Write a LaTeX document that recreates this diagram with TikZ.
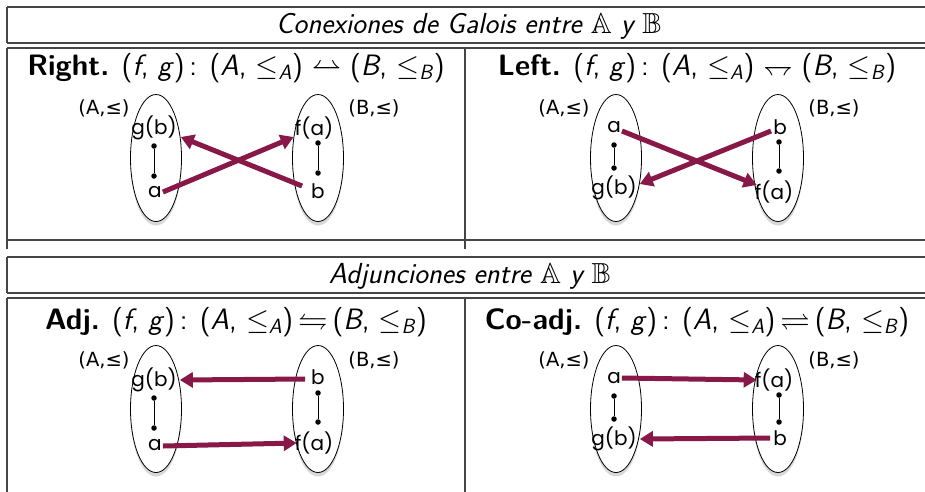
\RequirePackage{fix-cm}
\documentclass[tikz,border=0pt]{standalone}
\usepackage{amsmath,amssymb}
\usepackage{fontspec}
\newfontfamily\lblfont{DejaVu Sans}
\newfontfamily\hwfont{Poppins}
\usetikzlibrary{arrows.meta,shadows,shapes.geometric}
\definecolor{arrowc}{RGB}{135,24,72}
\definecolor{rulec}{RGB}{70,70,70}
\newcommand{\hdL}{(\textit{f}, \textit{g})\,: (\textit{A}, $\leq_{\textsf{\textit{A}}}$)}
\newcommand{\hdR}{(\textit{B}, $\leq_{\textsf{\textit{B}}}$)}
\newcommand{\symRight}{\ooalign{$\leftharpoonup$\cr$\rightharpoonup$}}
\newcommand{\symLeft}{\ooalign{$\leftharpoondown$\cr$\rightharpoondown$}}
\begin{document}
\begin{tikzpicture}[x=1pt,y=-1pt,
 rule/.style={draw=rulec,line width=1.2pt},
 ttl/.style={font=\sffamily\itshape\fontsize{29}{34}\selectfont,anchor=base,inner sep=0pt},
 hd/.style={font=\sffamily\fontsize{29.5}{35}\selectfont,anchor=base,inner sep=0pt},
 setlbl/.style={font=\lblfont\fontsize{19.5}{22}\selectfont,inner sep=0pt},
 hw/.style={font=\hwfont\fontsize{20}{23}\selectfont,inner sep=0pt},
 ell/.style={ellipse,draw=black,line width=0.8pt,fill=white,minimum width=51pt,minimum height=127pt,inner sep=0pt,drop shadow={shadow xshift=0pt,shadow yshift=-4pt,opacity=0.3}},
 dot/.style={circle,fill=black,inner sep=0pt,minimum size=5.5pt},
 link/.style={draw=black,line width=0.9pt},
 arr/.style={draw=arrowc,line width=5pt,-{Triangle[length=13pt,width=15pt]}}
]
\useasboundingbox (0,0) rectangle (925,491);
\fill[white] (0,0) rectangle (925,491);

% ---- table rules, row 1
\draw[rule] (7,7) -- (950,7);
\draw[rule] (7,7) -- (7,43);
\draw[rule] (7,43) -- (950,43);
\draw[rule] (7,48) -- (950,48);
\draw[rule] (7,48) -- (7,249);
\draw[rule] (465,48) -- (465,249);
\draw[rule] (7,240) -- (950,240);
% ---- table rules, row 2
\draw[rule] (7,257) -- (950,257);
\draw[rule] (7,257) -- (7,293);
\draw[rule] (7,293) -- (950,293);
\draw[rule] (7,298) -- (950,298);
\draw[rule] (7,298) -- (7,500);
\draw[rule] (465,298) -- (465,500);

% ---- titles
\node[ttl] (t1) at (469,33) {Conexiones de Galois entre $\mathbb{A}$ y $\mathbb{B}$};
\node[ttl] (t2) at (470,283) {Adjunciones entre $\mathbb{A}$ y $\mathbb{B}$};

% ---- headings
\node[hd] (h1) at (236,75) {\textbf{Right.} \hdL\ \symRight\ \hdR};
\node[hd] (h2) at (697,75) {\textbf{Left.} \hdL\ \symLeft\ \hdR};
\node[hd] (h3) at (236,329) {\textbf{Adj.} \hdL\,$\leftrightharpoons$\,\hdR};
\node[hd] (h4) at (697,329) {\textbf{Co-adj.} \hdL\,$\rightleftharpoons$\,\hdR};

% ---- cell 1: Right
\node[ell] (EA1) at (156,158) {};
\node[ell] (EB1) at (318,158) {};
\node[setlbl] (SA1) at (104,108) {(A,≤)};
\node[setlbl] (SB1) at (374,108) {(B,≤)};
\node[hw] (gb1) at (154,128) {g(b)};
\node[dot] (p1) at (154,146) {};
\node[dot] (q1) at (154,176) {};
\node[hw] (a1) at (155,192) {a};
\node[hw] (fa1) at (314,128) {f(a)};
\node[dot] (r1) at (318,143) {};
\node[dot] (s1) at (318,173) {};
\node[hw] (b1) at (318,191) {b};
\draw[link] (p1) -- (q1);
\draw[link] (r1) -- (s1);
\draw[arr] ([xshift=1pt]a1.east) -- ([xshift=-1pt,yshift=-9pt]fa1.west);
\draw[arr] ([xshift=-9pt,yshift=5pt]b1.west) -- ([xshift=4pt,yshift=-9pt]gb1.east);

% ---- cell 2: Left
\begin{scope}[shift={(460,0)}]
\node[ell] (EA2) at (156,158) {};
\node[ell] (EB2) at (318,158) {};
\node[setlbl] (SA2) at (104,108) {(A,≤)};
\node[setlbl] (SB2) at (374,108) {(B,≤)};
\node[hw] (a2) at (154,127) {a};
\node[dot] (p2) at (154,145) {};
\node[dot] (q2) at (154,168) {};
\node[hw] (gb2) at (154,188) {g(b)};
\node[hw] (b2) at (320,127) {b};
\node[dot] (r2) at (319,142) {};
\node[dot] (s2) at (319,171) {};
\node[hw] (fa2) at (314,192) {f(a)};
\draw[link] (p2) -- (q2);
\draw[link] (r2) -- (s2);
\draw[arr] ([xshift=1pt,yshift=-4pt]a2.east) -- ([xshift=2pt,yshift=7pt]fa2.west);
\draw[arr] ([xshift=-2pt,yshift=-4pt]b2.west) -- ([xshift=3pt,yshift=4pt]gb2.east);
\end{scope}

% ---- cell 3: Adj
\begin{scope}[shift={(0,250)}]
\node[ell] (EA3) at (156,159) {};
\node[ell] (EB3) at (318,159) {};
\node[setlbl] (SA3) at (104,110) {(A,≤)};
\node[setlbl] (SB3) at (374,110) {(B,≤)};
\node[hw] (gb3) at (154,130) {g(b)};
\node[dot] (p3) at (154,148) {};
\node[dot] (q3) at (154,178) {};
\node[hw] (a3) at (155,195) {a};
\node[hw] (b3) at (318,127) {b};
\node[dot] (r3) at (318,143) {};
\node[dot] (s3) at (318,172) {};
\node[hw] (fa3) at (314,193) {f(a)};
\draw[link] (p3) -- (q3);
\draw[link] (r3) -- (s3);
\draw[arr] ([xshift=-6pt,yshift=-2pt]b3.west) -- ([xshift=3pt]gb3.east);
\draw[arr] ([xshift=1pt,yshift=-1pt]a3.east) -- ([xshift=2pt]fa3.west);
\end{scope}

% ---- cell 4: Co-adj
\begin{scope}[shift={(460,250)}]
\node[ell] (EA4) at (156,159) {};
\node[ell] (EB4) at (318,159) {};
\node[setlbl] (SA4) at (104,110) {(A,≤)};
\node[setlbl] (SB4) at (374,110) {(B,≤)};
\node[hw] (a4) at (154,128) {a};
\node[dot] (p4) at (154,146) {};
\node[dot] (q4) at (154,169) {};
\node[hw] (gb4) at (154,189) {g(b)};
\node[hw] (fa4) at (314,130) {f(a)};
\node[dot] (r4) at (319,145) {};
\node[dot] (s4) at (319,172) {};
\node[hw] (b4) at (320,188) {b};
\draw[link] (p4) -- (q4);
\draw[link] (r4) -- (s4);
\draw[arr] ([xshift=1pt]a4.east) -- ([xshift=2pt]fa4.west);
\draw[arr] ([xshift=-3pt]b4.west) -- ([xshift=3pt]gb4.east);
\end{scope}
\end{tikzpicture}
\end{document}
